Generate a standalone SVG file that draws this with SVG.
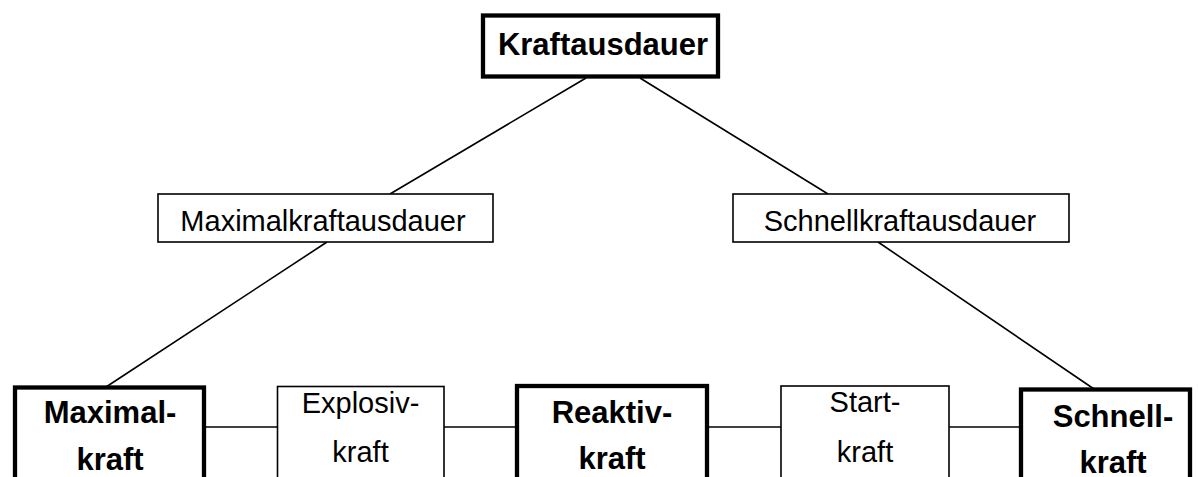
<svg xmlns="http://www.w3.org/2000/svg" width="1198" height="477" viewBox="0 0 1198 477">
<style>
.bg{fill:#fff}
.thick{fill:#fff;stroke:#000;stroke-width:4.3}
.thin{fill:#fff;stroke:#000;stroke-width:1.6}
.con{stroke:#000;stroke-width:1.6;fill:none}
.b{font-family:"Liberation Sans",Arial,sans-serif;font-weight:bold;font-size:31px;fill:#000;text-anchor:middle}
.r{font-family:"Liberation Sans",Arial,sans-serif;font-size:29px;fill:#000;text-anchor:middle}
</style>
<rect class="bg" x="0" y="0" width="1198" height="477"/>
<g id="connectors">
<line class="con" x1="586" y1="78" x2="390" y2="194"/>
<line class="con" x1="640" y1="78" x2="828" y2="194"/>
<line class="con" x1="327" y1="242" x2="106" y2="387"/>
<line class="con" x1="878" y1="242" x2="1094" y2="389"/>
<line class="con" x1="206" y1="427" x2="277" y2="427"/>
<line class="con" x1="444" y1="427" x2="515" y2="427"/>
<line class="con" x1="709" y1="427" x2="781" y2="427"/>
<line class="con" x1="949" y1="427" x2="1019" y2="427"/>
</g>
<g id="kraftausdauer">
<rect class="thick" x="483" y="15.5" width="235" height="61"/>
<text class="b" x="603" y="55">Kraftausdauer</text>
</g>
<g id="maximalkraftausdauer">
<rect class="thin" x="158" y="194" width="335" height="48"/>
<text class="r" x="323" y="231">Maximalkraftausdauer</text>
</g>
<g id="schnellkraftausdauer">
<rect class="thin" x="733" y="194" width="336" height="48"/>
<text class="r" x="900" y="231">Schnellkraftausdauer</text>
</g>
<g id="maximalkraft">
<rect class="thick" x="15" y="387.5" width="189" height="100"/>
<text class="b" x="110" y="423">Maximal-</text>
<text class="b" x="110" y="470">kraft</text>
</g>
<g id="explosivkraft">
<rect class="thin" x="277.5" y="386.5" width="166.5" height="100"/>
<text class="r" x="360.5" y="413">Explosiv-</text>
<text class="r" x="360.5" y="462">kraft</text>
</g>
<g id="reaktivkraft">
<rect class="thick" x="517" y="386" width="190" height="100"/>
<text class="b" x="612" y="423">Reaktiv-</text>
<text class="b" x="612" y="469">kraft</text>
</g>
<g id="startkraft">
<rect class="thin" x="781" y="386" width="168" height="100"/>
<text class="r" x="865" y="412">Start-</text>
<text class="r" x="865" y="462">kraft</text>
</g>
<g id="schnellkraft">
<rect class="thick" x="1021" y="389.5" width="169" height="100"/>
<text class="b" x="1113" y="427">Schnell-</text>
<text class="b" x="1113" y="473">kraft</text>
</g>
</svg>
